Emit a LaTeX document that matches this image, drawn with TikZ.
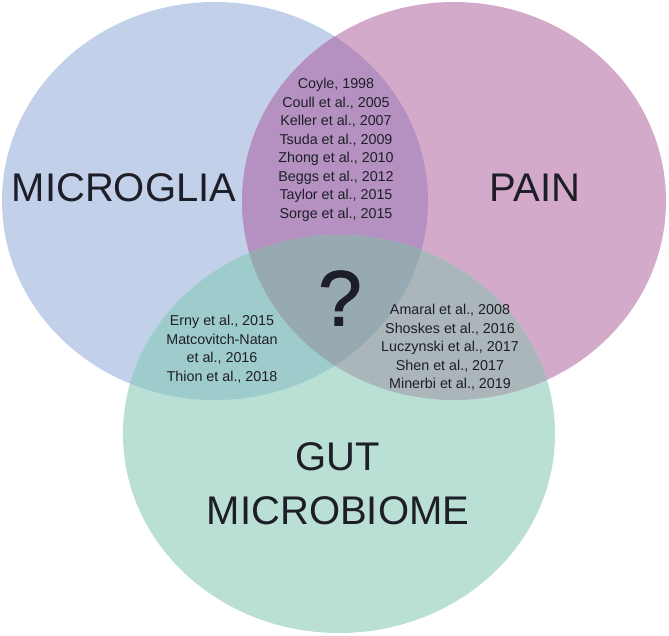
\documentclass[tikz,border=0pt]{standalone}
\usepackage{fontspec}
\setmainfont{Liberation Sans}
\newfontfamily\qfont[FakeBold=1.5]{Liberation Sans}
\definecolor{cBlue}{HTML}{C2D0EA}
\definecolor{cPink}{HTML}{D4AACB}
\definecolor{cGreen}{HTML}{BADFD4}
\definecolor{cBP}{HTML}{B491C0}
\definecolor{cBG}{HTML}{9ECBCB}
\definecolor{cPG}{HTML}{AAB6B9}
\definecolor{cAll}{HTML}{97A9B1}
\definecolor{cText}{HTML}{1E1E28}
\tikzset{
  ref/.style={font=\fontsize{14.3}{18.5}\selectfont, text=cText, align=center, inner sep=0pt},
  big/.style={font=\fontsize{40}{52}\selectfont, text=cText, align=center, inner sep=0pt},
}
\begin{document}
\begin{tikzpicture}[x=1pt,y=-1pt]
\useasboundingbox (0,0) rectangle (669,635);
\def\blueE{(215,201) ellipse [x radius=213pt, y radius=199pt]}
\def\pinkE{(454,201) ellipse [x radius=212pt, y radius=199pt]}
\def\greenE{(339,434) ellipse [x radius=216pt, y radius=199pt]}
\fill[cBlue] \blueE;
\fill[cPink] \pinkE;
\fill[cGreen] \greenE;
\begin{scope}\clip \blueE; \fill[cBP] \pinkE; \end{scope}
\begin{scope}\clip \blueE; \fill[cBG] \greenE; \end{scope}
\begin{scope}\clip \pinkE; \fill[cPG] \greenE; \end{scope}
\begin{scope}\clip \blueE; \clip \pinkE; \fill[cAll] \greenE; \end{scope}

\node[big] (micro) at (124,188) {MICROGLIA};
\node[big] (pain) at (535,188) {PAIN};
\node[big] (gut) at (338,457) {GUT};
\node[big] (biome) at (338,511) {MICROBIOME};
\node[font=\qfont\fontsize{78}{80}\selectfont, text=cText, inner sep=0pt] (q) at (340,298) {?};

\node[ref, anchor=north] (bp) at (336,78) {Coyle, 1998\\Coull et al., 2005\\Keller et al., 2007\\Tsuda et al., 2009\\Zhong et al., 2010\\Beggs et al., 2012\\Taylor et al., 2015\\Sorge et al., 2015};
\node[ref, anchor=north] (bg) at (222,315) {Erny et al., 2015\\Matcovitch-Natan\\et al., 2016\\Thion et al., 2018};
\node[ref, anchor=north] (pg) at (450,304) {Amaral et al., 2008\\Shoskes et al., 2016\\Luczynski et al., 2017\\Shen et al., 2017\\Minerbi et al., 2019};
\end{tikzpicture}
\end{document}
